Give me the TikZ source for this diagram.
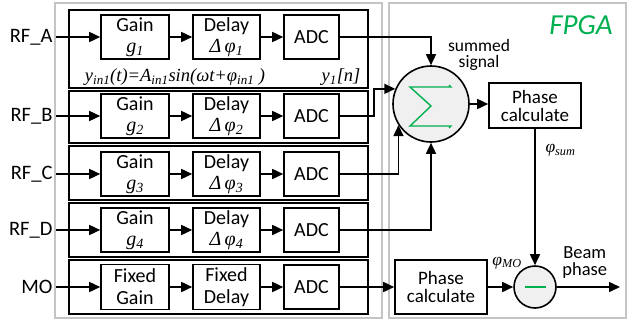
\documentclass[tikz,border=0pt]{standalone}
\usepackage{fontspec}
\setmainfont{Carlito}
\newfontfamily\timesfont{Liberation Serif}
\newcommand{\varit}{\timesfont\itshape}
\usetikzlibrary{arrows.meta, positioning}
\definecolor{mygreen}{HTML}{00B050}
\definecolor{mygray}{HTML}{C4C4C4}
\definecolor{mylightgray}{HTML}{F0F0F0}
\tikzset{
	blocknode/.style={
			draw=black,
			line width=1.6pt,
			minimum height=44pt,
			inner sep=0pt,
			align=center,
			font=\fontsize{20}{21}\selectfont
		},
	sumnode/.style={
			circle,
			draw=black,
			line width=1.6pt,
			fill=mylightgray,
			minimum size=76pt,
			inner sep=0pt
		},
	diffnode/.style={
			sumnode,
			minimum size=42pt
		},
	chanbox/.style={draw=black, line width=1.6pt},
	panelbox/.style={draw=mygray, line width=2pt},
	signalline/.style={line width=1.6pt},
	sigmaline/.style={draw=mygreen, line width=1.4pt, line join=miter},
	labeltext/.style={font=\fontsize{20.5}{22}\selectfont},
	vartext/.style={font=\fontsize{17.5}{19}\selectfont\varit}
}
\tikzset{
	fpgatext/.style={font=\fontsize{29}{32}\selectfont\itshape, text=mygreen}
}

\begin{document}
\begin{tikzpicture}[x=1pt, y=-1pt, >={Triangle[length=11pt,width=10pt]}]
        \useasboundingbox (0,0) rectangle (635,322);

        % panels
        \draw[panelbox] (55,3) rectangle (382,318);
        \draw[panelbox] (389,3) rectangle (626,318);
        \foreach \t/\b in {10/88, 91/143, 146/200, 203/257, 260/314}
          \draw[chanbox] (69,\t) rectangle (368,\b);

        % RF channels
        \foreach \n/\y/\lab in {1/37/RF\_A, 2/116/RF\_B, 3/174/RF\_C, 4/230/RF\_D} {
          \node[labeltext, anchor=east] at (56,\y) (in\n) {\lab};
          \node[blocknode, minimum width=68pt] at (135,\y) (gain\n) {Gain\\{\varit g\textsubscript{\n}}};
          \node[blocknode, minimum width=67pt] at (226.5,\y) (dly\n) {Delay\\{\varit Δ\,φ\textsubscript{\n}}};
          \node[blocknode, minimum width=55pt] at (311.5,\y) (adc\n) {ADC};
          \draw[->, signalline] (in\n) -- (gain\n);
          \draw[->, signalline] (gain\n) -- (dly\n);
          \draw[->, signalline] (dly\n) -- (adc\n);
        }

        % MO channel
        \node[labeltext, anchor=east] at (56,287) (in5) {MO};
        \node[blocknode, minimum width=68pt, minimum height=45pt, font=\fontsize{20}{22}\selectfont] at (135,287) (gain5) {Fixed\\Gain};
        \node[blocknode, minimum width=67pt, minimum height=45pt, font=\fontsize{20}{22}\selectfont] at (226.5,287) (dly5) {Fixed\\Delay};
        \node[blocknode, minimum width=55pt] at (311.5,287) (adc5) {ADC};
        \draw[->, signalline] (in5) -- (gain5);
        \draw[->, signalline] (gain5) -- (dly5);
        \draw[->, signalline] (dly5) -- (adc5);

        \node[vartext, font=\fontsize{18.5}{20}\selectfont\varit] at (175,77) (eqin) {y\textsubscript{in1}(t)=A\textsubscript{in1}sin(ωt+φ\textsubscript{in1} )};
        \node[vartext, font=\fontsize{18.5}{20}\selectfont\varit] at (341,77) (yone) {y\textsubscript{1}[n]};

        % FPGA side
        \node[fpgatext] at (581,25) (fpga) {FPGA};
        \node[sumnode] at (431,104) (sum) {};
        \draw[sigmaline] (449,85) -- (451,87) -- (410,87) -- (431,106) -- (410,126) -- (451,126) -- (449,128);
        \node[labeltext, font=\fontsize{17.5}{16}\selectfont, align=center] at (479,55) (sumlabel) {summed\\signal};
        \node[blocknode, minimum width=92pt, minimum height=45pt, font=\fontsize{19}{18}\selectfont] at (535,105.5) (pcsum) {Phase\\calculate};
        \node[diffnode] at (535,287) (diff) {};
        \draw[draw=mygreen, line width=2.5pt] ([xshift=-10pt]diff.center) -- ([xshift=11pt]diff.center);
        \node[blocknode, minimum width=92pt, minimum height=54pt, font=\fontsize{19}{18}\selectfont] at (441,287) (pcmo) {Phase\\calculate};
        \coordinate (beam) at (620,287);

        \draw[->, signalline] (adc1.east) -| (sum.north);
        \draw[->, signalline] (adc2.east) -- ++(34,0) |- (sum.157);
        \draw[->, signalline] (adc3.east) -| (sum.213);
        \draw[->, signalline] (adc4.east) -| (sum.south);
        \draw[->, signalline] (sum.east) -- (sum.east -| pcsum.west);
        \draw[->, signalline] (pcsum) -- (diff);
        \draw[->, signalline] (adc5) -- (pcmo);
        \draw[->, signalline] (pcmo) -- (diff);
        \draw[->, signalline] (diff) -- (beam);

        \node[vartext, below right=12pt and 7pt of pcsum.south] (phisum) {φ\textsubscript{sum}};
        \node[vartext] at (507,263) (phimo) {φ\textsubscript{MO}};
        \node[labeltext, font=\fontsize{18.5}{17}\selectfont, align=center, above right=5pt and 2pt of diff.east] (beamlabel) {Beam\\phase};
      \end{tikzpicture}
\end{document}
